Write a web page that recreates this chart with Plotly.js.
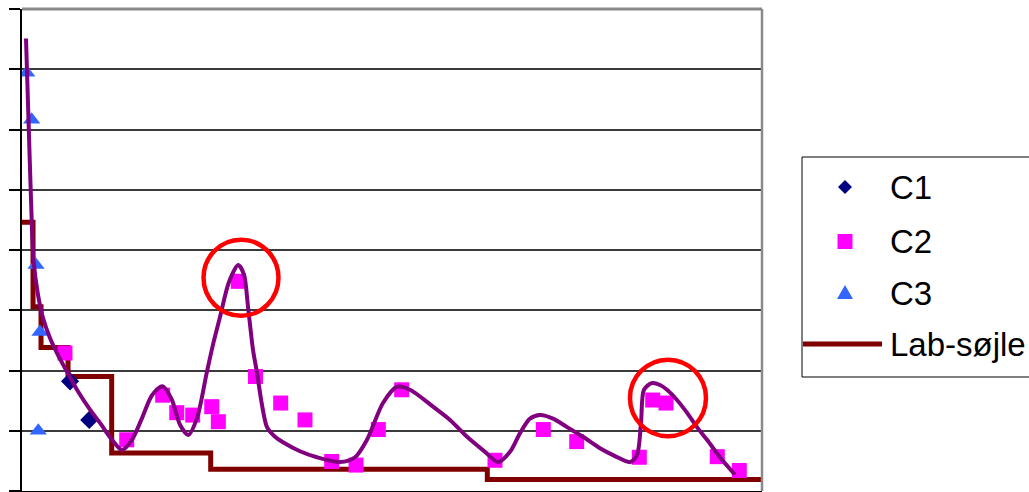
<!DOCTYPE html>
<html>
<head>
<meta charset="utf-8">
<script src="https://cdn.plot.ly/plotly-3.0.1.min.js"></script>
<style>
  html, body { margin: 0; padding: 0; background: #ffffff; }
  #chart { width: 1029px; height: 492px; }
</style>
</head>
<body>
<div id="chart"></div>
<script>
// ---- data ----
const seriesNames = ["C1", "C2", "C3", "Lab-søjle"];

const c1X = [6.49, 9.09];
const c1Y = [1.82, 1.18];

const c2X = [5.81, 14.15, 19.01, 20.91, 23.07, 25.64, 26.53, 29.23, 31.55, 34.96, 38.24, 41.85,
             45.14, 48.15, 51.31, 63.92, 70.45, 74.96, 83.42, 85.23, 87.03, 93.96, 96.93];
const c2Y = [2.29, 0.85, 1.59, 1.30, 1.26, 1.40, 1.15, 3.48, 1.90, 1.46, 1.18, 0.49,
             0.43, 1.02, 1.68, 0.51, 1.02, 0.82, 0.56, 1.51, 1.46, 0.57, 0.34];

const c3X = [0.64, 1.31, 1.89, 2.43, 2.20];
const c3Y = [6.94, 6.16, 3.75, 2.64, 1.00];

const labX = [0, 1.49, 2.57, 6.22, 12.12, 25.50, 62.88, 100];
const labY = [4.46, 3.06, 2.38, 1.90, 0.63, 0.36, 0.19, 0.19];

const curveX = [0.54, 0.88, 1.22, 1.55, 2.16, 2.84, 3.78, 4.73, 6.08, 7.43, 9.19, 10.54, 12.16, 13.51,
  14.86, 16.22, 17.57, 19.01, 20.27, 21.35, 22.47, 23.65, 24.96, 25.81, 26.76, 27.97, 29.23, 30.00,
  30.54, 31.22, 31.76, 32.43, 33.11, 34.19, 35.27, 37.57, 39.86, 42.97, 45.00, 46.62, 48.78, 50.68,
  52.43, 55.54, 57.84, 60.14, 62.57, 64.32, 65.95, 67.30, 68.65, 70.00, 71.76, 73.65, 75.81, 78.11,
  80.14, 82.16, 83.11, 83.65, 84.05, 85.09, 86.22, 87.16, 88.51, 89.86, 91.22, 92.57, 94.32, 96.35];
const curveY = [7.51, 6.16, 4.83, 3.84, 3.26, 2.87, 2.54, 2.29, 1.98, 1.68, 1.35, 1.13, 0.85, 0.68,
  0.85, 1.21, 1.59, 1.74, 1.51, 1.10, 0.93, 1.21, 1.96, 2.43, 2.89, 3.47, 3.75, 3.59,
  3.06, 2.34, 1.96, 1.43, 1.06, 0.90, 0.81, 0.66, 0.56, 0.48, 0.56, 0.85, 1.46, 1.73,
  1.68, 1.40, 1.18, 0.90, 0.65, 0.48, 0.65, 0.96, 1.20, 1.26, 1.20, 1.06, 0.90, 0.71,
  0.58, 0.48, 0.60, 1.13, 1.68, 1.79, 1.76, 1.68, 1.51, 1.30, 1.06, 0.85, 0.56, 0.27];

// highlighted regions (red circles), in data units
const circle1 = {x0: 24.53, x1: 34.66, y0: 2.91, y1: 4.17};
const circle2 = {x0: 82.16, x1: 92.43, y0: 0.91, y1: 2.18};

// ---- styles ----
const colC1 = "#000080", colC2 = "#ff00ff", colC3 = "#3366ff", colLab = "#800000",
      colCurve = "#800080", colCircle = "#ff0000";
const fontFam = "Liberation Sans, Arial, sans-serif";

const traces = [
  {x: labX, y: labY, type: "scatter", mode: "lines", name: seriesNames[3],
   line: {color: colLab, width: 5, shape: "hv"}},
  {x: c1X, y: c1Y, type: "scatter", mode: "markers", name: seriesNames[0],
   marker: {symbol: "diamond", size: 14, color: colC1, line: {width: 0}}},
  {x: c2X, y: c2Y, type: "scatter", mode: "markers", name: seriesNames[1],
   marker: {symbol: "square", size: 15, color: colC2, line: {width: 0}}},
  {x: c3X, y: c3Y, type: "scatter", mode: "markers", name: seriesNames[2],
   marker: {symbol: "triangle-up", size: 15, color: colC3, line: {width: 0}}},
  {x: curveX, y: curveY, type: "scatter", mode: "lines", name: "Kurve",
   line: {color: colCurve, width: 4, shape: "spline", smoothing: 0.8}}
];

// plot area: x 22..762 px, y 9..491 px
const W = 740, H = 482, L = 22, T = 9;
const px = v => (v - L) / W;
const py = v => (T + H - v) / H;

const legendRows = [187, 241.5, 293, 344];
const legSymX = 845;

const shapes = [
  // top & right frame (gray)
  {type: "line", xref: "paper", yref: "paper", x0: 0, x1: 1, y0: 1, y1: 1,
   line: {color: "#8a8a8a", width: 3}},
  {type: "line", xref: "paper", yref: "paper", x0: 1, x1: 1, y0: 0, y1: 1,
   line: {color: "#8a8a8a", width: 2.5}},
  // highlight circles
  {type: "circle", xref: "x", yref: "y", x0: circle1.x0, x1: circle1.x1, y0: circle1.y0, y1: circle1.y1,
   line: {color: colCircle, width: 4.5}},
  {type: "circle", xref: "x", yref: "y", x0: circle2.x0, x1: circle2.x1, y0: circle2.y0, y1: circle2.y1,
   line: {color: colCircle, width: 4.5}},
  // legend box
  {type: "rect", xref: "paper", yref: "paper", x0: px(802), x1: px(1045), y0: py(377), y1: py(157),
   line: {color: "#000000", width: 1}, fillcolor: "rgba(255,255,255,0)"},
  // legend symbols
  {type: "path", xref: "paper", yref: "paper", xsizemode: "pixel", ysizemode: "pixel",
   xanchor: px(legSymX), yanchor: py(legendRows[0]),
   path: "M0,7 L7,0 L0,-7 L-7,0 Z", fillcolor: colC1, line: {width: 0}},
  {type: "rect", xref: "paper", yref: "paper", xsizemode: "pixel", ysizemode: "pixel",
   xanchor: px(legSymX), yanchor: py(legendRows[1]), x0: -7.5, x1: 7.5, y0: -7.5, y1: 7.5,
   fillcolor: colC2, line: {width: 0}},
  {type: "path", xref: "paper", yref: "paper", xsizemode: "pixel", ysizemode: "pixel",
   xanchor: px(legSymX), yanchor: py(legendRows[2]),
   path: "M-8,-6 L8,-6 L0,8 Z", fillcolor: colC3, line: {width: 0}},
  {type: "line", xref: "paper", yref: "paper", x0: px(803), x1: px(882),
   y0: py(legendRows[3]), y1: py(legendRows[3]), line: {color: colLab, width: 5}}
];

const annotations = seriesNames.map((n, i) => ({
  xref: "paper", yref: "paper", x: px(888), y: py(legendRows[i]),
  xanchor: "left", yanchor: "middle", showarrow: false, text: n,
  font: {family: fontFam, size: 33, color: "#000000"}
}));

const layout = {
  width: 1029, height: 492,
  margin: {l: L, r: 1029 - L - W, t: T, b: 492 - T - H, pad: 0},
  paper_bgcolor: "#ffffff", plot_bgcolor: "#ffffff",
  showlegend: false,
  font: {family: fontFam},
  xaxis: {range: [0, 100], showgrid: false, zeroline: false, showline: true,
          linecolor: "#000000", linewidth: 2, ticks: "", showticklabels: false, fixedrange: true},
  yaxis: {range: [0, 8], tick0: 0, dtick: 1, showgrid: true, gridcolor: "#3a3a3a", gridwidth: 2,
          zeroline: false, showline: true, linecolor: "#000000", linewidth: 2,
          ticks: "outside", ticklen: 11, tickwidth: 2, tickcolor: "#000000",
          showticklabels: false, fixedrange: true},
  shapes: shapes,
  annotations: annotations
};

Plotly.newPlot("chart", traces, layout, {displayModeBar: false, staticPlot: true});
</script>
</body>
</html>
